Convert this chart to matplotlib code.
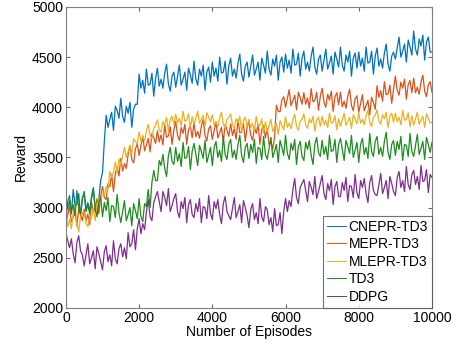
import numpy as np
import matplotlib.pyplot as plt

plt.rcParams['font.family'] = ['Liberation Sans', 'DejaVu Sans']

# one value every 50 episodes, 10 values (500 episodes) per row
episodes = list(range(0, 10001, 50))

cnepr_td3 = [3130, 2990, 3070, 2940, 3180, 3020, 3030, 3140, 2910, 3090,
             3160, 2980, 3050, 2960, 3110, 3200, 3000, 2930, 3080, 3270,
             3350, 3660, 3920, 3800, 3880, 3950, 3770, 4010, 3970, 3890,
             4090, 3910, 3850, 4010, 3940, 4050, 3800, 3980, 4030, 4030,
             4330, 4190, 4270, 4140, 4380, 4220, 4230, 4340, 4110, 4290,
             4390, 4210, 4280, 4190, 4340, 4430, 4230, 4160, 4310, 4350,
             4200, 4310, 4420, 4220, 4280, 4350, 4170, 4390, 4320, 4240,
             4460, 4280, 4220, 4380, 4310, 4420, 4170, 4350, 4400, 4250,
             4450, 4310, 4390, 4260, 4500, 4340, 4350, 4460, 4230, 4410,
             4490, 4310, 4380, 4290, 4440, 4530, 4330, 4260, 4410, 4450,
             4300, 4410, 4520, 4320, 4380, 4450, 4270, 4490, 4420, 4340,
             4560, 4380, 4320, 4480, 4410, 4520, 4270, 4450, 4500, 4350,
             4530, 4390, 4470, 4340, 4580, 4420, 4430, 4540, 4310, 4490,
             4560, 4380, 4450, 4360, 4510, 4600, 4400, 4330, 4480, 4520,
             4360, 4470, 4580, 4380, 4440, 4510, 4330, 4550, 4480, 4400,
             4600, 4420, 4360, 4520, 4450, 4560, 4310, 4490, 4540, 4390,
             4550, 4410, 4490, 4360, 4600, 4440, 4450, 4560, 4330, 4510,
             4590, 4410, 4480, 4390, 4540, 4630, 4430, 4360, 4510, 4550,
             4480, 4590, 4700, 4500, 4560, 4630, 4450, 4670, 4600, 4520,
             4760, 4580, 4520, 4680, 4610, 4720, 4470, 4650, 4700, 4550,
             4550]

mepr_td3 = [2840, 2930, 3015, 2855, 2905, 2960, 2815, 2990, 2935, 2870,
            2985, 2870, 2935, 2830, 3055, 2955, 2985, 3090, 2940, 3110,
            3210, 3100, 3080, 3240, 3210, 3330, 3160, 3335, 3405, 3315,
            3490, 3365, 3440, 3390, 3530, 3620, 3480, 3445, 3585, 3635,
            3520, 3620, 3715, 3565, 3625, 3690, 3555, 3740, 3695, 3640,
            3765, 3655, 3725, 3625, 3825, 3700, 3715, 3805, 3630, 3775,
            3860, 3720, 3670, 3800, 3740, 3830, 3630, 3775, 3815, 3695,
            3850, 3705, 3760, 3690, 3810, 3880, 3720, 3665, 3785, 3815,
            3680, 3770, 3855, 3695, 3745, 3800, 3655, 3830, 3775, 3710,
            3835, 3720, 3785, 3680, 3875, 3745, 3755, 3840, 3660, 3800,
            3860, 3720, 3670, 3800, 3740, 3830, 3630, 3775, 3815, 3695,
            3790, 3625, 3660, 3580, 3700, 4020, 3960, 3955, 4075, 4105,
            4000, 4090, 4175, 4015, 4065, 4120, 3975, 4150, 4095, 4030,
            4145, 4030, 4095, 3990, 4185, 4055, 4065, 4150, 3970, 4110,
            4190, 4050, 4000, 4130, 4070, 4160, 3960, 4105, 4145, 4025,
            4150, 4005, 4060, 3990, 4110, 4180, 4020, 3965, 4085, 4115,
            3950, 4040, 4125, 3965, 4015, 4070, 3925, 4100, 4045, 3980,
            4215, 4100, 4165, 4060, 4255, 4125, 4135, 4220, 4040, 4180,
            4310, 4170, 4120, 4250, 4190, 4280, 4080, 4225, 4265, 4145,
            4290, 4145, 4200, 4130, 4250, 4320, 4160, 4105, 4225, 4255,
            4150]

mlepr_td3 = [2990, 2810, 2880, 2790, 2940, 3030, 2830, 2760, 2910, 2950,
             2955, 2845, 2810, 2915, 2895, 2990, 2870, 3020, 3090, 3040,
             3170, 3125, 3210, 3175, 3360, 3300, 3350, 3455, 3345, 3485,
             3430, 3515, 3600, 3500, 3560, 3620, 3530, 3685, 3660, 3635,
             3755, 3660, 3710, 3665, 3765, 3830, 3720, 3690, 3790, 3820,
             3875, 3775, 3750, 3855, 3825, 3900, 3760, 3880, 3910, 3830,
             3930, 3845, 3890, 3815, 3960, 3860, 3870, 3935, 3795, 3905,
             3830, 3895, 3960, 3840, 3880, 3920, 3810, 3945, 3900, 3855,
             3925, 3820, 3860, 3805, 3895, 3950, 3830, 3790, 3880, 3900,
             3935, 3825, 3790, 3885, 3845, 3910, 3760, 3870, 3900, 3810,
             3880, 3795, 3840, 3765, 3910, 3810, 3820, 3885, 3745, 3855,
             3750, 3815, 3880, 3760, 3800, 3840, 3730, 3865, 3820, 3775,
             3905, 3800, 3840, 3785, 3875, 3930, 3810, 3770, 3860, 3880,
             3935, 3825, 3790, 3885, 3845, 3910, 3760, 3870, 3900, 3810,
             3910, 3825, 3870, 3795, 3940, 3840, 3850, 3915, 3775, 3885,
             3810, 3875, 3940, 3820, 3860, 3900, 3790, 3925, 3880, 3835,
             3945, 3840, 3880, 3825, 3915, 3970, 3850, 3810, 3900, 3920,
             3975, 3865, 3830, 3925, 3885, 3950, 3800, 3910, 3940, 3850,
             3940, 3855, 3900, 3825, 3970, 3870, 3880, 3945, 3805, 3915,
             3820, 3885, 3950, 3830, 3870, 3910, 3800, 3935, 3890, 3845,
             3850]

td3 = [2880, 3060, 3120, 2960, 3030, 2920, 3170, 2990, 2940, 3090,
       3140, 2960, 3030, 2940, 3090, 3180, 2980, 2910, 3060, 3100,
       2910, 3050, 2970, 3100, 2860, 3020, 3010, 2900, 3130, 2950,
       2850, 2960, 3070, 2870, 2930, 3000, 2820, 3040, 2970, 2890,
       3090, 2910, 2860, 3040, 3010, 3180, 3000, 3250, 3370, 3270,
       3270, 3470, 3420, 3530, 3390, 3310, 3520, 3600, 3460, 3430,
       3600, 3460, 3540, 3410, 3650, 3490, 3500, 3610, 3380, 3560,
       3640, 3530, 3420, 3620, 3560, 3490, 3670, 3450, 3520, 3600,
       3420, 3600, 3660, 3500, 3570, 3460, 3710, 3530, 3480, 3630,
       3680, 3500, 3570, 3480, 3630, 3720, 3520, 3450, 3600, 3640,
       3490, 3630, 3550, 3680, 3440, 3600, 3590, 3480, 3710, 3530,
       3480, 3590, 3700, 3500, 3560, 3630, 3450, 3670, 3600, 3520,
       3720, 3540, 3480, 3640, 3570, 3680, 3430, 3610, 3660, 3510,
       3470, 3650, 3580, 3670, 3520, 3430, 3630, 3700, 3550, 3510,
       3670, 3530, 3610, 3480, 3720, 3560, 3570, 3680, 3450, 3630,
       3690, 3580, 3470, 3670, 3610, 3540, 3720, 3500, 3570, 3650,
       3450, 3630, 3690, 3530, 3600, 3490, 3740, 3560, 3510, 3660,
       3710, 3530, 3600, 3510, 3660, 3750, 3550, 3480, 3630, 3670,
       3520, 3660, 3580, 3710, 3470, 3630, 3620, 3510, 3740, 3560,
       3510, 3620, 3730, 3530, 3590, 3660, 3480, 3700, 3630, 3550,
       3650]

ddpg = [2750, 2670, 2600, 2690, 2540, 2450, 2650, 2720, 2570, 2530,
        2420, 2530, 2640, 2440, 2500, 2570, 2390, 2610, 2540, 2460,
        2380, 2560, 2620, 2460, 2530, 2420, 2670, 2490, 2440, 2590,
        2640, 2510, 2600, 2490, 2750, 2610, 2640, 2780, 2580, 2790,
        2890, 2740, 2840, 2780, 2960, 3080, 2910, 2870, 3050, 3110,
        3160, 3060, 2960, 3160, 3100, 3020, 3190, 2960, 3020, 3090,
        3140, 2960, 2900, 3060, 2990, 3100, 2850, 3030, 3080, 2930,
        2900, 3040, 2960, 3090, 2850, 3010, 3000, 2890, 3120, 2940,
        2880, 3060, 2990, 3080, 2930, 2840, 3040, 3110, 2960, 2920,
        2880, 2990, 3100, 2900, 2960, 3030, 2850, 3070, 3000, 2920,
        2800, 2980, 3040, 2880, 2950, 2840, 3090, 2910, 2860, 3010,
        2980, 2830, 2900, 2760, 2990, 2820, 2830, 2950, 2740, 2960,
        3090, 2960, 3070, 3010, 3180, 3290, 3100, 3040, 3200, 3240,
        3280, 3170, 3060, 3260, 3200, 3130, 3310, 3090, 3160, 3240,
        3320, 3140, 3080, 3240, 3170, 3280, 3030, 3210, 3260, 3110,
        3110, 3250, 3170, 3300, 3060, 3220, 3210, 3100, 3330, 3150,
        3090, 3270, 3200, 3290, 3140, 3050, 3250, 3320, 3170, 3130,
        3120, 3230, 3340, 3140, 3200, 3270, 3090, 3310, 3240, 3160,
        3120, 3300, 3360, 3200, 3270, 3160, 3410, 3230, 3180, 3330,
        3370, 3230, 3310, 3180, 3420, 3260, 3270, 3380, 3150, 3330,
        3300]

labels = ['CNEPR-TD3', 'MEPR-TD3', 'MLEPR-TD3', 'TD3', 'DDPG']
colors = ['#0072BD', '#D95319', '#EDB120', '#1E8C1E', '#7E2F8E']
series = [cnepr_td3, mepr_td3, mlepr_td3, td3, ddpg]

fig = plt.figure(figsize=(4.64, 3.46), dpi=100)
ax = fig.add_axes([0.142, 0.110, 0.789, 0.870])

for data, c, lab in zip(series, colors, labels):
    ax.plot(episodes, data, color=c, lw=0.9, label=lab)

ax.set_xlim(0, 10000)
ax.set_ylim(2000, 5000)
ax.set_xticks(np.arange(0, 10001, 2000))
ax.set_yticks(np.arange(2000, 5001, 500))
ax.tick_params(direction='in', top=True, right=True, labelsize=10,
               length=3, color='0.4', pad=2)
for s in ax.spines.values():
    s.set_color('0.5')
    s.set_linewidth(0.8)

ax.set_xlabel('Number of Episodes', fontsize=10, labelpad=0)
ax.set_ylabel('Reward', fontsize=10, labelpad=3)

leg = ax.legend(loc='lower right', fontsize=10, handlelength=1.4,
                handletextpad=0.15, labelspacing=0.25, borderaxespad=0,
                fancybox=False, borderpad=0.3)
leg.get_frame().set_edgecolor('0.3')
leg.get_frame().set_linewidth(0.8)
for line in leg.get_lines():
    line.set_linewidth(0.7)

fig.savefig('out.png', dpi=100)
